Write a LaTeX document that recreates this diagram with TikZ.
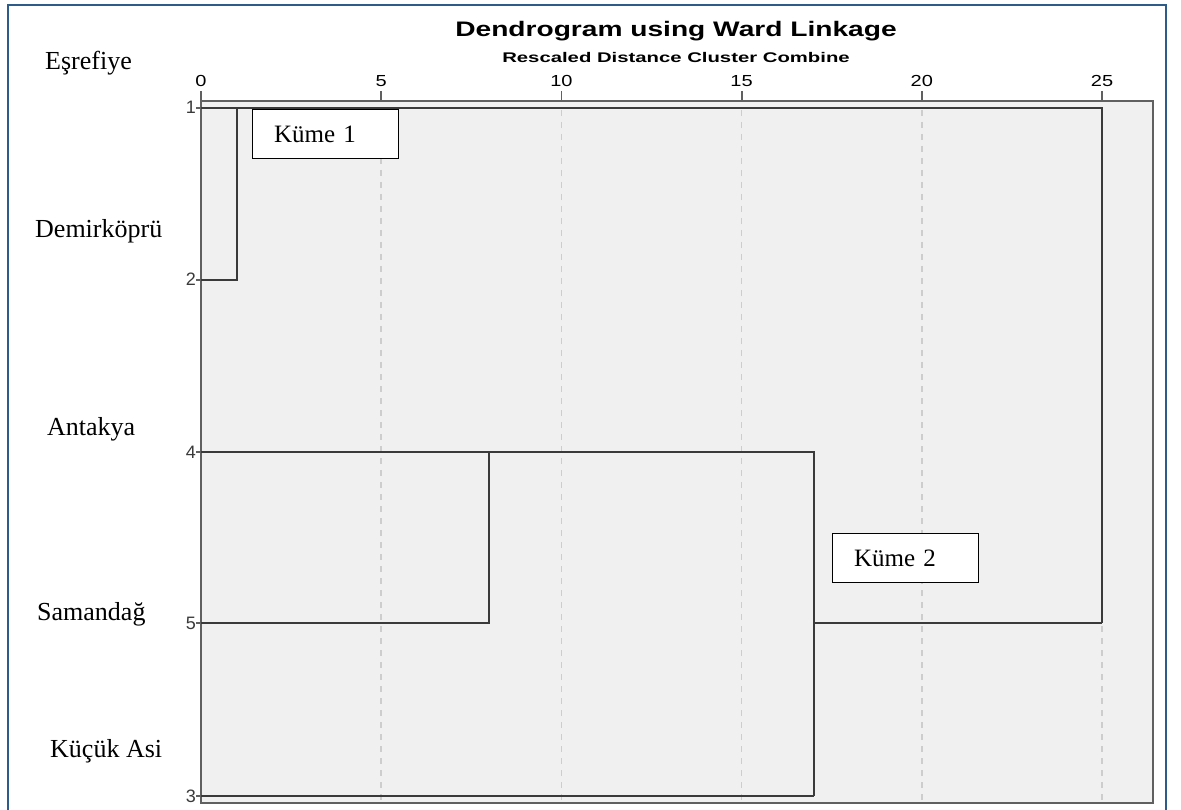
\documentclass[tikz,border=0pt]{standalone}
\usepackage{fontspec}
\setmainfont{Liberation Serif}
\setsansfont{Liberation Sans}
\usetikzlibrary{positioning}
\definecolor{frameblue}{HTML}{2E5C8A}
\definecolor{plotgray}{HTML}{F0F0F0}
\definecolor{linegray}{HTML}{3A3A3A}
\definecolor{boxgray}{HTML}{606060}
\definecolor{gridgray}{HTML}{CDCDCD}
\tikzset{
  branch/.style={draw=linegray, line width=2.2pt},
  gridline/.style={draw=gridgray, line width=1.6pt, dash pattern=on 6pt off 6pt},
  ticklab/.style={font=\sffamily\fontsize{16}{18}\selectfont, anchor=base, xscale=1.25, inner sep=0pt},
  leaflab/.style={font=\sffamily\fontsize{18}{20}\selectfont, text=linegray, anchor=base east, inner sep=0pt},
  placelab/.style={font=\fontsize{26}{30}\selectfont, anchor=base west, inner sep=0pt},
  clusterbox/.style={draw, fill=white, line width=1pt, text width=102pt, inner xsep=22pt,
    minimum height=49pt, align=left, font=\fontsize{25}{30}\selectfont}
}
\begin{document}
\begin{tikzpicture}[x=1pt, y=-1pt]
\useasboundingbox (0,0) rectangle (1181,810);
% plot area
\fill[plotgray] (201,101) rectangle (1153,803);
\foreach \d in {5,10,...,25}{
\draw[gridline] ({201+36.04*\d},110) -- ({201+36.04*\d},803);
}
\draw[boxgray, line width=1.8pt] (201,101) rectangle (1153,803);
\draw[frameblue, line width=2pt] (8,815) -- (8,5) -- (1166,5) -- (1166,815);

% axis
\foreach \d in {0,5,...,25}{
\draw[boxgray, line width=1.8pt] ({201+36.04*\d},91) -- ({201+36.04*\d},101);
\node[ticklab] at ({201+36.04*\d},87) {\d};
}
\node[font=\sffamily\bfseries\fontsize{21}{24}\selectfont, anchor=base, xscale=1.34, inner sep=0pt]
  (title) at (676,37) {Dendrogram using Ward Linkage};
\node[font=\sffamily\bfseries\fontsize{14}{16}\selectfont, anchor=base, xscale=1.45, inner sep=0pt]
  (subtitle) at (676,63) {Rescaled Distance Cluster Combine};

% leaves
\coordinate (p1) at (201,108);
\coordinate (p2) at (201,280);
\coordinate (p4) at (201,452);
\coordinate (p5) at (201,623);
\coordinate (p3) at (201,796);
\foreach \c/\n in {p1/1,p2/2,p4/4,p5/5,p3/3}{
\draw[boxgray, line width=1.8pt] ([xshift=-5pt]\c) -- (\c);
\node[leaflab] (n\n) at ([xshift=-5pt, yshift=-6pt]\c) {\n};
}

% merges
\coordinate (c12) at (237,108);
\coordinate (c45) at (489,452);
\coordinate (c453) at (814,796);
\coordinate (j453) at (814,623);
\coordinate (call) at (1102,623);
\draw[branch] (p2) -| (c12);
\draw[branch] (p1) -| (call);
\draw[branch] (p4) -- (c45);
\draw[branch] (p5) -| (c45) -| (c453);
\draw[branch] (p3) -- (c453);
\draw[branch] (j453) -- (call);

% cluster boxes
\node[clusterbox] (kume1) at (325,134) {Küme 1};
\node[clusterbox] (kume2) at (905,558) {Küme 2};

% place names
\node[placelab] (esrefiye) at (45,70) {Eşrefiye};
\node[placelab] (demirkopru) at (35,238) {Demirköprü};
\node[placelab] (antakya) at (47,435) {Antakya};
\node[placelab] (samandag) at (37,620) {Samandağ};
\node[placelab] (kucukasi) at (50,757) {Küçük Asi};
\end{tikzpicture}
\end{document}
